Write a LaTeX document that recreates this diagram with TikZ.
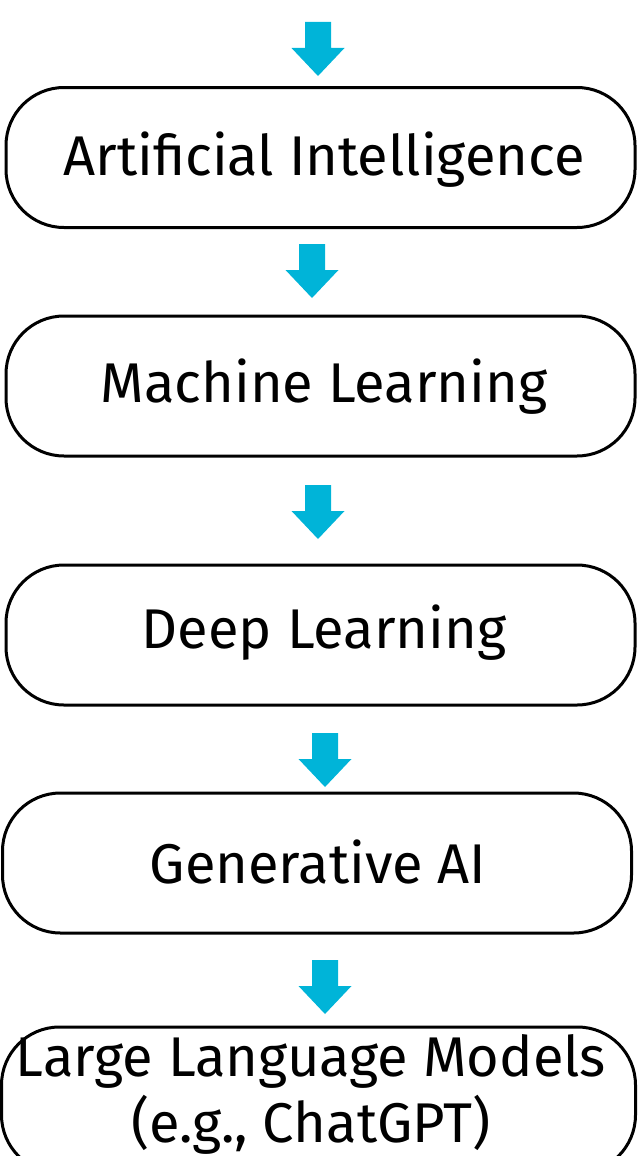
\documentclass[tikz,border=0pt]{standalone}
\usepackage{fontspec}
\setmainfont{Fira Sans}
\definecolor{arrowcyan}{RGB}{0,180,216}
\tikzset{
  stage/.style={draw=black, line width=3pt, rounded corners=58pt,
    minimum width=629pt, minimum height=140pt, inner sep=0pt},
  label/.style={inner sep=0pt, font=\fontsize{56}{66}\selectfont, align=center},
  pics/downarrow/.style={code={
    \fill[arrowcyan] (-13pt,27pt) -- (13pt,27pt) -- (13pt,1pt) -- (26.5pt,1pt)
      -- (0pt,-27pt) -- (-26.5pt,1pt) -- (-13pt,1pt) -- cycle;}}
}
\begin{document}
\begin{tikzpicture}[x=1pt, y=-1pt]
  \useasboundingbox (0,0) rectangle (637,1156);

  % stage boxes
  \node[stage] (ai)  at (320.5,157.5) {};
  \node[stage] (ml)  at (320.5,386) {};
  \node[stage] (dl)  at (320.5,635) {};
  \node[stage] (gen) at (317,863) {};
  \node[stage, minimum width=634pt, minimum height=146pt] (llm) at (318.5,1100) {};

  % labels
  \node[label] (tai)  at (324,160) {Artificial Intelligence};
  \node[label] (tml)  at (324,387) {Machine Learning};
  \node[label] (tdl)  at (324,633) {Deep Learning};
  \node[label] (tgen) at (318,862) {Generative AI};
  \node[label] (tllm) at (311,1094) {Large Language Models\\(e.g., ChatGPT)};

  % block arrows between the stages
  \pic at (318,49) {downarrow};
  \pic at (312,271) {downarrow};
  \pic at (318,512) {downarrow};
  \pic at (325,760) {downarrow};
  \pic at (325,987) {downarrow};
\end{tikzpicture}
\end{document}
